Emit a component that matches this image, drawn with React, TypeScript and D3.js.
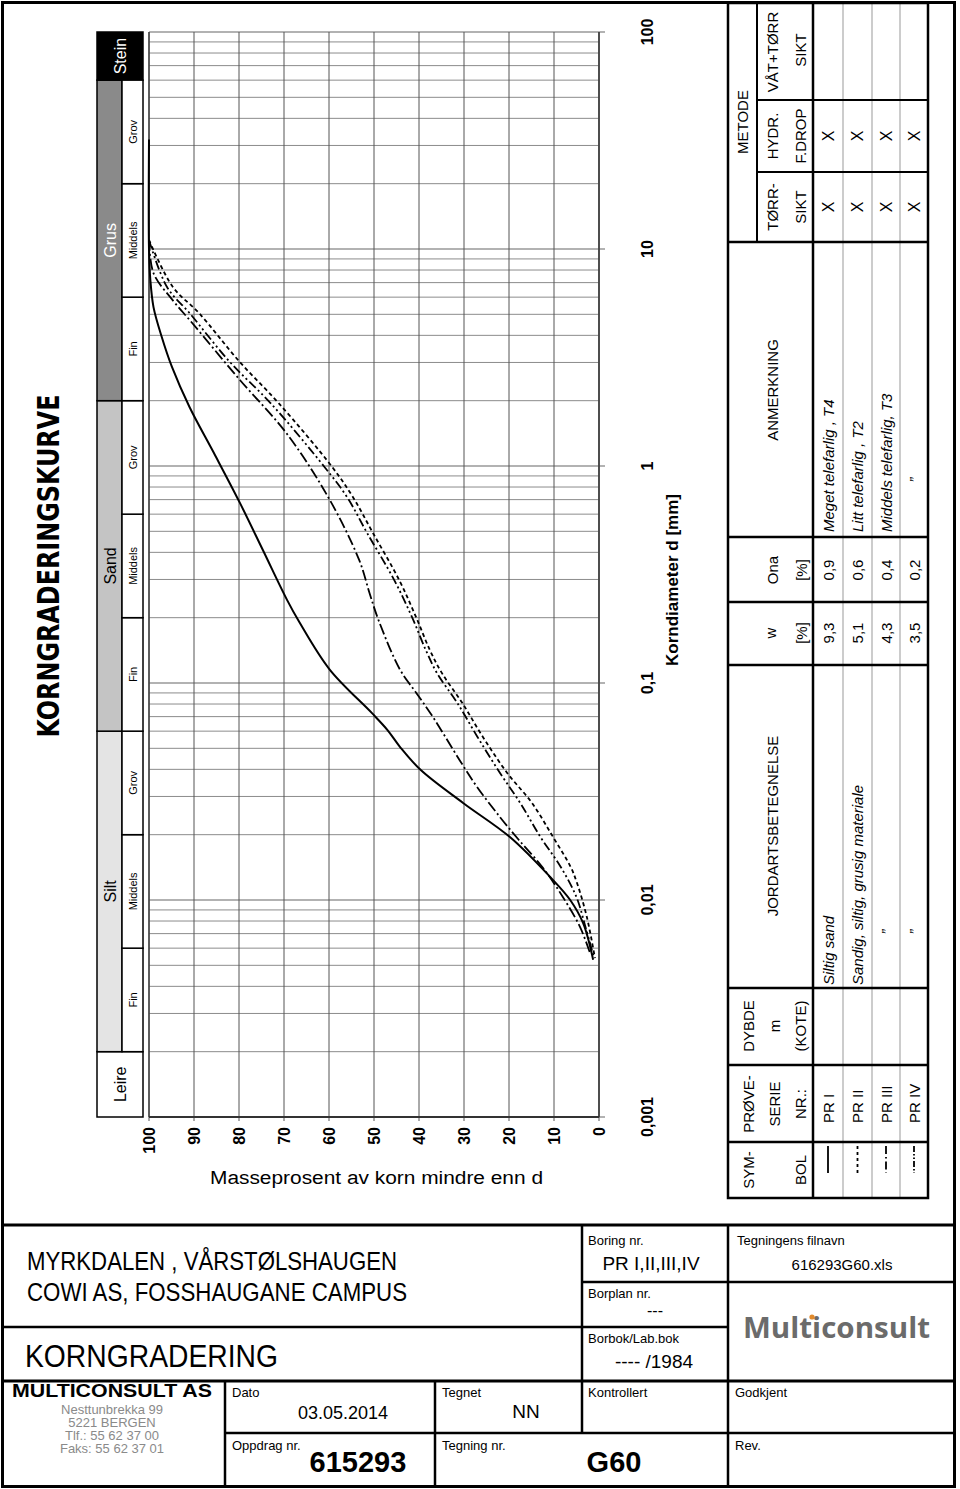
import React from "react";
import * as d3 from "d3";

const W = 960;
const H = 1489;
const FONT = "'Liberation Sans', Arial, sans-serif";

// percent passing axis and grain diameter axis
const percentTicks = [0, 10, 20, 30, 40, 50, 60, 70, 80, 90, 100];
const diameterTicks = [0.001, 0.01, 0.1, 1, 10, 100];
const diameterLabels = ["0,001", "0,01", "0,1", "1", "10", "100"];

// soil classes (grain size bounds in mm)
const classNames = ["Leire", "Silt", "Sand", "Grus", "Stein"];
const classBounds = [0.001, 0.002, 0.06, 2, 60, 100];
const subNames = ["Fin", "Middels", "Grov"];
const siltBounds = [0.002, 0.006, 0.02, 0.06];
const sandBounds = [0.06, 0.2, 0.6, 2];
const grusBounds = [2, 6, 20, 60];

// grading curves: [diameter mm, percent passing]
const prI: [number, number][] = [
  [32, 100], [10, 100], [7.2, 99.7], [5.4, 99], [3.95, 97.2], [2.86, 94.9],
  [1.87, 91], [1.15, 85.6], [0.676, 79.8], [0.41, 74.7], [0.241, 69.3],
  [0.191, 66.6], [0.115, 59.8], [0.0728, 50.5], [0.0607, 47], [0.0507, 44.2],
  [0.0397, 39.6], [0.028, 30.2], [0.0195, 19.8], [0.0128, 10.9], [0.01, 6.4],
  [0.0078, 3.5], [0.0053, 1.3],
];
const prII: [number, number][] = [
  [11, 100], [6.68, 94.7], [5.07, 88.9], [3.01, 79.8], [1.95, 71.2], [0.99, 59.3],
  [0.72, 54.7], [0.49, 50.2], [0.298, 44.4], [0.2, 40.6], [0.142, 37.6],
  [0.111, 34.9], [0.081, 30.4], [0.0564, 25.8], [0.0385, 20.4], [0.028, 14.9],
  [0.0195, 10.2], [0.0142, 6.3], [0.012, 4.9], [0.00835, 2.7], [0.0054, 0.9],
];
const prIII: [number, number][] = [
  [11, 100], [7.74, 99], [5.8, 94.7], [4.56, 90.4], [2.49, 79.8], [1.42, 69.5],
  [0.72, 60.2], [0.369, 53.3], [0.26, 51], [0.195, 49], [0.115, 44.2],
  [0.09, 40.6], [0.0697, 36.9], [0.0442, 31], [0.0332, 27.1], [0.0241, 22],
  [0.0189, 17.8], [0.0142, 12.6], [0.0103, 8], [0.0075, 4.2], [0.0057, 2],
];
const prIV: [number, number][] = [
  [11, 100], [6.68, 96], [5.07, 91], [3.01, 82], [1.95, 73], [0.99, 61],
  [0.72, 56], [0.49, 51.5], [0.298, 45.5], [0.2, 41.5], [0.142, 38.5],
  [0.111, 36], [0.081, 31.5], [0.0564, 27], [0.0385, 22], [0.028, 17.5],
  [0.0195, 13], [0.0142, 8.5], [0.0103, 5], [0.0075, 3], [0.0055, 1.2],
];

// table
const sampleNames = ["PR I", "PR II", "PR III", "PR IV"];
const soilTypes = ["Siltig sand", "Sandig, siltig, grusig materiale", "\u201D", "\u201D"];
const waterContent = ["9,3", "5,1", "4,3", "3,5"];
const organicContent = ["0,9", "0,6", "0,4", "0,2"];
const remarks = ["Meget telefarlig , T4", "Litt telefarlig , T2", "Middels telefarlig, T3", "\u201D"];
const dryMethod = ["X", "X", "X", "X"];
const hydrMethod = ["X", "X", "X", "X"];

const series = [prI, prII, prIII, prIV];
const dashes = ["none", "4,3", "11,3,2,3", "9,3,2,3,2,3"];
const symbolDashes = ["none", "3,3", "8,3,1.5,3", "6,2,1.5,2,1.5,2"];

const RText = ({ x, y, children, anchor = "middle", size = 15, weight = "normal", italic = false, fill = "#000", family = FONT, len }: any) => (
  <text
    transform={`translate(${x},${y}) rotate(-90)`}
    textAnchor={anchor}
    dominantBaseline="central"
    fontSize={size}
    fontWeight={weight}
    fontStyle={italic ? "italic" : "normal"}
    fill={fill}
    fontFamily={family}
    textLength={len}
    lengthAdjust={len ? "spacingAndGlyphs" : undefined}
  >
    {children}
  </text>
);

const T = ({ x, y, children, size = 13, weight = "normal", anchor = "start", fill = "#000", len }: any) => (
  <text x={x} y={y} fontSize={size} fontWeight={weight} textAnchor={anchor} fill={fill} fontFamily={FONT}
    textLength={len} lengthAdjust={len ? "spacingAndGlyphs" : undefined}>
    {children}
  </text>
);

export default function App() {
  const x = d3.scaleLinear().domain([0, 100]).range([599, 149]);
  const y = d3.scaleLog().domain([0.001, 100]).range([1117, 32]);

  const line = d3
    .line<[number, number]>()
    .x((d) => Math.max(149, x(d[1])))
    .y((d) => y(d[0]))
    .curve(d3.curveCatmullRom.alpha(0.5));

  const minor: number[] = [];
  for (let e = -3; e <= 1; e++) {
    for (let m = 2; m <= 9; m++) minor.push(m * Math.pow(10, e));
  }

  const classFill = ["#ffffff", "#e4e4e4", "#c4c4c4", "#8a8a8a", "#000000"];
  const classText = ["#000", "#000", "#000", "#fff", "#fff"];

  const subGroups = [siltBounds, sandBounds, grusBounds];

  // table geometry
  const rowEdges = [813, 843, 872, 900, 928];
  const rowMid = sampleNames.map((_, i) => (rowEdges[i] + rowEdges[i + 1]) / 2);
  const colEdges = [1142, 1065, 988, 665, 602, 537, 242];

  return (
    <svg width={W} height={H} style={{ position: "absolute", left: 0, top: 0, background: "#fff" }}>
      <rect x={0} y={0} width={W} height={H} fill="#fff" />

      {/* title */}
      <RText x={48} y={566} size={30} weight="bold" family="'Liberation Sans Narrow', 'DejaVu Sans Condensed', sans-serif" len={343}>
        KORNGRADERINGSKURVE
      </RText>

      {/* soil classification bar */}
      <g>
        {classNames.map((name, i) => {
          const y0 = y(classBounds[i + 1]);
          const y1 = y(classBounds[i]);
          const full = i === 0 || i === 4;
          return (
            <g key={name}>
              <rect x={97} y={y0} width={full ? 46 : 25} height={y1 - y0} fill={classFill[i]} stroke="#000" strokeWidth={1.5} />
              <RText x={full ? 120 : 110} y={(y0 + y1) / 2} size={16} fill={classText[i]}>
                {name}
              </RText>
            </g>
          );
        })}
        {subGroups.map((b, g) =>
          subNames.map((s, j) => {
            const y0 = y(b[j + 1]);
            const y1 = y(b[j]);
            return (
              <g key={`${g}-${s}`}>
                <rect x={122} y={y0} width={21} height={y1 - y0} fill="#fff" stroke="#000" strokeWidth={1.5} />
                <RText x={132.5} y={(y0 + y1) / 2} size={11}>
                  {s}
                </RText>
              </g>
            );
          })
        )}
      </g>

      {/* grid */}
      <g>
        {minor.map((v) => (
          <line key={v} x1={149} x2={599} y1={y(v)} y2={y(v)} stroke="#8c8c8c" strokeWidth={1} />
        ))}
        {diameterTicks.map((v) => (
          <line key={v} x1={149} x2={605} y1={y(v)} y2={y(v)} stroke="#666" strokeWidth={1.2} />
        ))}
        {percentTicks.map((p) => (
          <line key={p} x1={x(p)} x2={x(p)} y1={32} y2={1121} stroke="#555" strokeWidth={1} />
        ))}
        <line x1={149} x2={149} y1={32} y2={1117} stroke="#444" strokeWidth={1.5} />
        <line x1={599} x2={599} y1={32} y2={1117} stroke="#444" strokeWidth={1.8} />
        <line x1={149} x2={599} y1={1117} y2={1117} stroke="#333" strokeWidth={1.8} />
      </g>

      {/* curves */}
      <g fill="none" stroke="#000">
        {series.map((s, i) => (
          <path key={i} d={line(s) || ""} strokeWidth={i === 0 ? 2 : 1.8} strokeDasharray={dashes[i]} />
        ))}
      </g>

      {/* axis labels */}
      {percentTicks.map((p) => (
        <RText key={p} x={x(p)} y={1127} anchor="end" size={16} weight="bold">
          {p}
        </RText>
      ))}
      <T x={210} y={1184} size={18} len={333}>Masseprosent av korn mindre enn d</T>
      {diameterTicks.map((d, i) => (
        <RText key={d} x={647} y={y(d)} size={16} weight="bold">
          {diameterLabels[i]}
        </RText>
      ))}
      <RText x={672} y={580} size={17} weight="bold">
        Korndiameter d [mm]
      </RText>

      {/* table */}
      <g stroke="#000" fill="none">
        {rowEdges.slice(1, 4).map((r) => (
          <line key={r} x1={r} x2={r} y1={3} y2={1198} stroke="#999" strokeWidth={1} />
        ))}
        <rect x={728} y={3} width={200} height={1195} strokeWidth={2.5} />
        <line x1={813} x2={813} y1={3} y2={1198} strokeWidth={2.5} />
        {colEdges.map((c) => (
          <line key={c} x1={728} x2={928} y1={c} y2={c} strokeWidth={2.5} />
        ))}
        <line x1={757} x2={757} y1={3} y2={242} strokeWidth={2} />
        <line x1={757} x2={928} y1={172} y2={172} strokeWidth={2} />
        <line x1={757} x2={928} y1={100} y2={100} strokeWidth={2} />
      </g>
      <g>
        <RText x={748} y={1170}>SYM-</RText>
        <RText x={800} y={1170}>BOL</RText>
        <RText x={748} y={1104}>PRØVE-</RText>
        <RText x={774} y={1104}>SERIE</RText>
        <RText x={800} y={1104}>NR.:</RText>
        <RText x={748} y={1026}>DYBDE</RText>
        <RText x={774} y={1026}>m</RText>
        <RText x={800} y={1026}>(KOTE)</RText>
        <RText x={772} y={826}>JORDARTSBETEGNELSE</RText>
        <RText x={770} y={633}>w</RText>
        <RText x={801} y={633}>[%]</RText>
        <RText x={772} y={570}>Ona</RText>
        <RText x={801} y={570}>[%]</RText>
        <RText x={772} y={390}>ANMERKNING</RText>
        <RText x={742} y={122}>METODE</RText>
        <RText x={772} y={207}>TØRR-</RText>
        <RText x={800} y={207}>SIKT</RText>
        <RText x={772} y={136}>HYDR.</RText>
        <RText x={800} y={136}>F.DROP</RText>
        <RText x={772} y={52}>VÅT+TØRR</RText>
        <RText x={800} y={50}>SIKT</RText>
      </g>
      {sampleNames.map((s, i) => (
        <g key={s}>
          <line x1={rowMid[i]} x2={rowMid[i]} y1={1146} y2={1173} stroke="#000" strokeWidth={1.8} strokeDasharray={symbolDashes[i]} />
          <RText x={rowMid[i]} y={1123} anchor="start">{s}</RText>
          {i < 2 ? (
            <RText x={rowMid[i]} y={985} anchor="start" italic>{soilTypes[i]}</RText>
          ) : (
            <RText x={rowMid[i]} y={932} italic>{soilTypes[i]}</RText>
          )}
          <RText x={rowMid[i]} y={633}>{waterContent[i]}</RText>
          <RText x={rowMid[i]} y={570}>{organicContent[i]}</RText>
          {i < 3 ? (
            <RText x={rowMid[i]} y={532} anchor="start" italic>{remarks[i]}</RText>
          ) : (
            <RText x={rowMid[i]} y={480} italic>{remarks[i]}</RText>
          )}
          <RText x={rowMid[i]} y={207} size={16}>{dryMethod[i]}</RText>
          <RText x={rowMid[i]} y={136} size={16}>{hydrMethod[i]}</RText>
        </g>
      ))}

      {/* title block */}
      <g stroke="#000" fill="none">
        <rect x={2.5} y={2.5} width={952} height={1484} strokeWidth={3} />
        <line x1={2} x2={955} y1={1225} y2={1225} strokeWidth={3} />
        <line x1={2} x2={582} y1={1327} y2={1327} strokeWidth={2.5} />
        <line x1={2} x2={955} y1={1381} y2={1381} strokeWidth={3} />
        <line x1={582} x2={582} y1={1225} y2={1433} strokeWidth={2.5} />
        <line x1={728} x2={728} y1={1225} y2={1487} strokeWidth={2.5} />
        <line x1={582} x2={955} y1={1282} y2={1282} strokeWidth={2.5} />
        <line x1={582} x2={728} y1={1327} y2={1327} strokeWidth={2.5} />
        <line x1={225} x2={225} y1={1381} y2={1487} strokeWidth={2.5} />
        <line x1={435} x2={435} y1={1381} y2={1487} strokeWidth={2.5} />
        <line x1={225} x2={955} y1={1433} y2={1433} strokeWidth={2.5} />
      </g>
      <T x={27} y={1270} size={25} len={370}>MYRKDALEN , VÅRSTØLSHAUGEN</T>
      <T x={27} y={1301} size={25} len={380}>COWI AS, FOSSHAUGANE CAMPUS</T>
      <T x={25} y={1367} size={31} len={253}>KORNGRADERING</T>
      <T x={12} y={1397} size={19} weight="bold" len={200}>MULTICONSULT AS</T>
      <T x={112} y={1414} size={13} anchor="middle" fill="#8a8a8a">Nesttunbrekka 99</T>
      <T x={112} y={1427} size={13} anchor="middle" fill="#8a8a8a">5221 BERGEN</T>
      <T x={112} y={1440} size={13} anchor="middle" fill="#8a8a8a">Tlf.: 55 62 37 00</T>
      <T x={112} y={1453} size={13} anchor="middle" fill="#8a8a8a">Faks:  55 62 37 01</T>
      <T x={232} y={1397}>Dato</T>
      <T x={343} y={1419} size={18} anchor="middle">03.05.2014</T>
      <T x={232} y={1450}>Oppdrag nr.</T>
      <T x={358} y={1472} size={29} weight="bold" anchor="middle">615293</T>
      <T x={442} y={1397}>Tegnet</T>
      <T x={526} y={1418} size={19} anchor="middle">NN</T>
      <T x={442} y={1450}>Tegning nr.</T>
      <T x={614} y={1472} size={29} weight="bold" anchor="middle">G60</T>
      <T x={588} y={1397}>Kontrollert</T>
      <T x={735} y={1397}>Godkjent</T>
      <T x={735} y={1450}>Rev.</T>
      <T x={588} y={1245}>Boring nr.</T>
      <T x={651} y={1270} size={19} anchor="middle">PR I,II,III,IV</T>
      <T x={588} y={1298}>Borplan nr.</T>
      <T x={655} y={1316} size={16} anchor="middle">---</T>
      <T x={588} y={1343}>Borbok/Lab.bok</T>
      <T x={654} y={1368} size={19} anchor="middle">----  /1984</T>
      <T x={737} y={1245}>Tegningens filnavn</T>
      <T x={842} y={1270} size={15} anchor="middle">616293G60.xls</T>
      <text x={743} y={1338} fontSize={29} fontWeight="bold" fill="#6b6b6b" fontFamily="'Open Sans', 'Liberation Sans', sans-serif" textLength={187} lengthAdjust="spacingAndGlyphs">
        Multiconsult
      </text>
      <circle cx={812} cy={1317} r={2.6} fill="#e08a2c" />
    </svg>
  );
}
